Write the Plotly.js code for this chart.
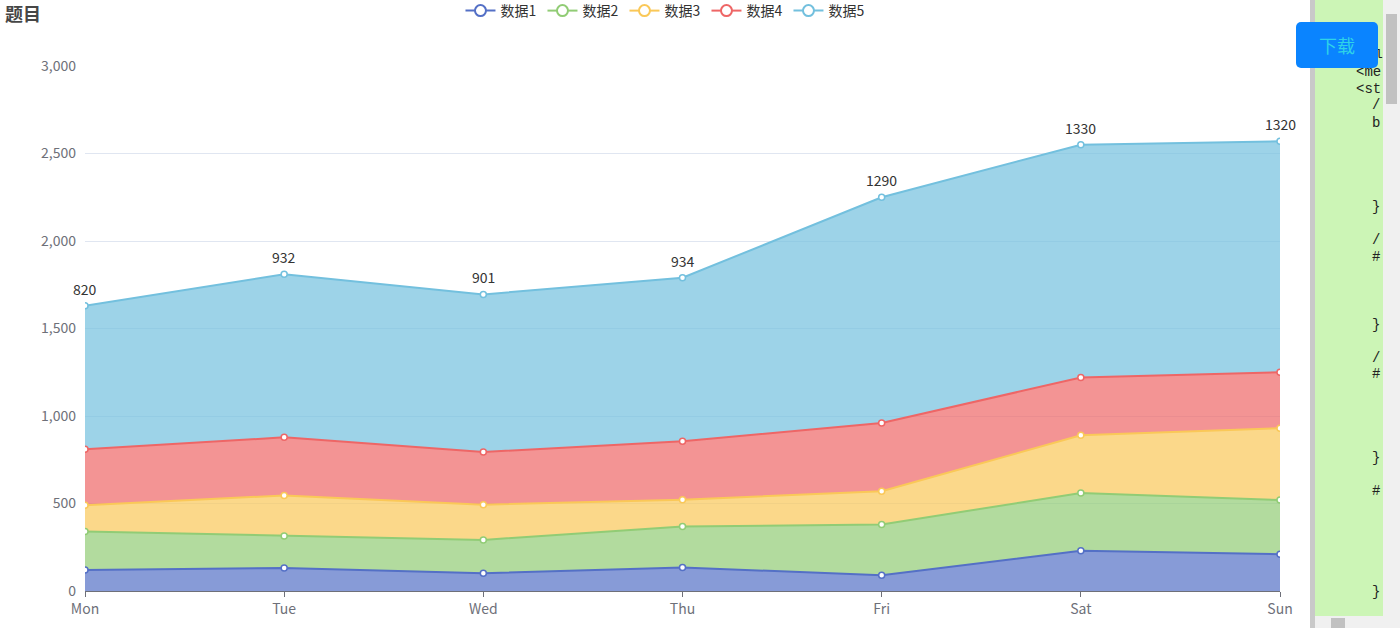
<!DOCTYPE html>
<html>
<head>
<meta charset="utf-8">
<script src="https://cdn.plot.ly/plotly-3.0.1.min.js"></script>
<style>
html,body{margin:0;padding:0;width:1400px;height:628px;overflow:hidden;background:#fff;font-family:"Noto Sans CJK SC","Noto Sans",sans-serif;}
#chart{position:absolute;left:0;top:0;width:1310px;height:628px;}
#divider{position:absolute;left:1310px;top:0;width:5px;height:628px;background:#c9c9c9;}
#panel{position:absolute;left:1315px;top:0;width:68px;height:616px;background:#ccf5b6;overflow:hidden;font-family:"Liberation Mono","DejaVu Sans Mono",monospace;font-size:14px;color:#222;}
#panel span{position:absolute;white-space:pre;line-height:16px;}
#vscroll{position:absolute;left:1383px;top:0;width:17px;height:616px;background:#f0f0f0;}
#vthumb{position:absolute;left:3px;top:14px;width:11px;height:90px;background:#c1c1c1;}
#hscroll{position:absolute;left:1315px;top:616px;width:85px;height:12px;background:#f0f0f0;}
#hthumb{position:absolute;left:16px;top:2px;width:14px;height:10px;background:#c1c1c1;}
#btn{position:absolute;left:1296px;top:22px;width:82px;height:46px;background:#0a84ff;border-radius:5px;color:#2fd3e8;font-size:18px;line-height:46px;text-align:center;font-family:"Noto Sans CJK SC",sans-serif;}
</style>
</head>
<body>
<div id="chart"></div>
<div id="divider"></div>
<div id="panel">
<span style="left:60px;top:47px;font-size:13px">l</span>
<span style="left:41px;top:64px">&lt;me</span>
<span style="left:41px;top:81px">&lt;st</span>
<span style="left:57px;top:97px">/</span>
<span style="left:57px;top:115px">b</span>
<span style="left:57px;top:199px">}</span>
<span style="left:57px;top:232px">/</span>
<span style="left:57px;top:249px">#</span>
<span style="left:57px;top:317px">}</span>
<span style="left:57px;top:350px">/</span>
<span style="left:57px;top:366px">#</span>
<span style="left:57px;top:450px">}</span>
<span style="left:57px;top:483px">#</span>
<span style="left:57px;top:584px">}</span>
</div>
<div id="vscroll"><div id="vthumb"></div></div>
<div id="hscroll"><div id="hthumb"></div></div>
<div id="btn">下载</div>
<script>
const categories = ['Mon','Tue','Wed','Thu','Fri','Sat','Sun'];
const seriesNames = ['数据1','数据2','数据3','数据4','数据5'];
const data1 = [120,132,101,134,90,230,210];
const data2 = [220,182,191,234,290,330,310];
const data3 = [150,232,201,154,190,330,410];
const data4 = [320,332,301,334,390,330,320];
const data5 = [820,932,901,934,1290,1330,1320];
const seriesData = [data1,data2,data3,data4,data5];
const colors = ['#5470c6','#91cc75','#fac858','#ee6666','#73c0de'];
const fills = ['rgba(84,112,198,0.7)','rgba(145,204,117,0.7)','rgba(250,200,88,0.7)','rgba(238,102,102,0.7)','rgba(115,192,222,0.7)'];

const traces = seriesData.map((d,i)=>({
  type:'scatter',
  x:categories, y:d, name:seriesNames[i],
  stackgroup:'one',
  mode:'lines+markers',
  line:{color:colors[i], width:2},
  fillcolor:fills[i],
  marker:{symbol:'circle', size:6, color:'#fff', line:{color:colors[i], width:1.5}},
  showlegend:false,
  hoverinfo:'skip'
}));
// legend-only entries (line with open circle icon)
seriesNames.forEach((n,i)=>{
  traces.push({
    type:'scatter', x:[null], y:[null], name:n, mode:'lines+markers',
    line:{color:colors[i], width:2},
    marker:{symbol:'circle', size:11, color:'#fff', line:{color:colors[i], width:2}},
    showlegend:true, hoverinfo:'skip'
  });
});

// totals of the stack, for the 数据5 value labels
const totals = categories.map((c,j)=>seriesData.reduce((s,d)=>s+d[j],0));
const annotations = categories.map((c,j)=>({
  x:c, y:totals[j], xref:'x', yref:'y', text:String(data5[j]),
  showarrow:false, yshift:17, font:{size:14, color:'#333'}
}));

const layout = {
  width:1310, height:628,
  margin:{l:85, r:30, t:66, b:37, autoexpand:false},
  paper_bgcolor:'#fff', plot_bgcolor:'#fff',
  font:{family:'"Noto Sans CJK SC","Noto Sans",sans-serif', color:'#6E7079', size:14},
  title:{text:'<b>题目</b>', x:5/1310, xanchor:'left', xref:'container', yref:'container', y:1-15/628, yanchor:'middle', font:{size:18, color:'#464646'}},
  showlegend:true,
  legend:{orientation:'h', xref:'container', yref:'container', x:0.508, xanchor:'center', y:1-11/628, yanchor:'middle', font:{size:14, color:'#333'}, traceorder:'normal', itemwidth:30, entrywidth:37, entrywidthmode:'pixels'},
  annotations:annotations,
  xaxis:{type:'category', range:[0,6], showgrid:false, showline:true, linecolor:'#6E7079', linewidth:1, ticks:'outside', ticklen:5, tickcolor:'#6E7079', tickfont:{size:14, color:'#6E7079'}, zeroline:false, fixedrange:true},
  yaxis:{range:[0,3000], dtick:500, tickformat:',d', showgrid:true, gridcolor:'#E0E6F1', zeroline:false, showline:false, ticks:'', tickfont:{size:14, color:'#6E7079'}, ticklabelstandoff:8, fixedrange:true}
};
Plotly.newPlot('chart', traces, layout, {displayModeBar:false, staticPlot:true});
</script>
</body>
</html>
